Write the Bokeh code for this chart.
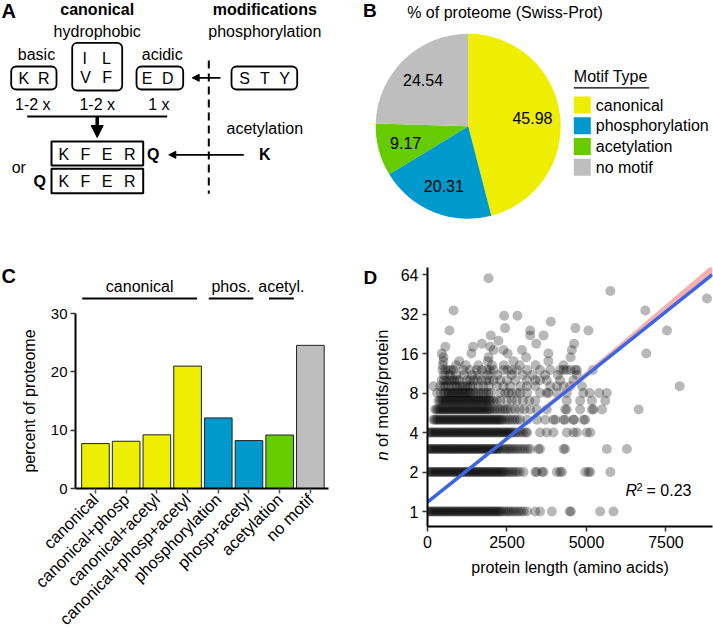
import math
from bokeh.plotting import figure
from bokeh.layouts import row, column
from bokeh.models import Range1d, FixedTicker, Arrow, NormalHead, BasicTickFormatter, Plot
from bokeh.core.properties import value
from bokeh.embed import file_html
from bokeh.resources import INLINE

FONT = "Liberation Sans"

# ---------------- data ----------------
motif_types = ["canonical", "phosphorylation", "acetylation", "no motif"]
motif_pct = [45.98, 20.31, 9.17, 24.54]
motif_colors = ["#EEEE00", "#0099CC", "#66CC00", "#BEBEBE"]

combo_labels = ["canonical", "canonical+phosp", "canonical+acetyl", "canonical+phosp+acetyl",
                "phosphorylation", "phosp+acetyl", "acetylation", "no motif"]
combo_pct = [7.7, 8.1, 9.2, 20.98, 12.1, 8.21, 9.17, 24.54]
combo_colors = ["#EEEE00", "#EEEE00", "#EEEE00", "#EEEE00", "#0099CC", "#0099CC", "#66CC00", "#BEBEBE"]

group_names = ["canonical", "phos.", "acetyl."]
group_spans = [(-0.43, 3.31), (3.69, 5.14), (5.65, 6.46)]

y_ticks_c = [0, 10, 20, 30]
x_ticks_d = [0, 2500, 5000, 7500]
y_ticks_d = [1, 2, 4, 8, 16, 32, 64]

# protein lengths (aa) of proteins carrying n motifs
len_n1 = [20, 64, 108, 152, 197, 240, 285, 330, 373, 417, 462, 506, 550, 595, 638, 683, 727, 771, 815, 860,
          904, 948, 992, 1037, 1081, 1125, 1169, 1214, 1258, 1302, 1347, 1391, 1435, 1480, 1524, 1568, 1612,
          1657, 1701, 1745, 1790, 1834, 1878, 1922, 1967, 2011, 2055, 2100, 2144, 2188, 2232, 2277, 2321,
          2390, 2450, 2520, 2580, 2650, 2720, 2790, 2870, 2940, 3020, 3130, 3390, 3540, 3910, 4470, 4510,
          5430, 5850]
len_n2 = [25, 70, 114, 159, 203, 248, 292, 337, 381, 426, 470, 515, 559, 604, 648, 693, 737, 782, 826, 871,
          915, 960, 1004, 1049, 1093, 1138, 1182, 1227, 1271, 1316, 1360, 1405, 1449, 1494, 1538, 1583, 1627,
          1672, 1716, 1761, 1805, 1850, 1894, 1939, 1983, 2028, 2072, 2117, 2161, 2206, 2250, 2295, 2339,
          2384, 2428, 2490, 2550, 2620, 2680, 2750, 2820, 2900, 3020, 3390, 3440, 3600, 3650, 4070, 4170,
          4230, 4960, 5060, 5120, 5750]
len_n3 = [22, 66, 110, 155, 199, 243, 288, 332, 376, 420, 465, 509, 553, 598, 642, 686, 730, 775, 819, 863,
          908, 952, 996, 1040, 1085, 1129, 1173, 1218, 1262, 1306, 1350, 1395, 1439, 1483, 1528, 1572, 1616,
          1660, 1705, 1749, 1793, 1838, 1882, 1926, 1970, 2015, 2059, 2103, 2148, 2192, 2236, 2280,
          2360, 2420, 2490, 2550, 2610, 2680, 2750, 2820, 2900, 2980, 3060, 3150, 3230, 3490, 3540, 4280,
          4330, 5640, 6270]
len_n4 = [30, 75, 119, 164, 208, 253, 297, 342, 386, 431, 475, 520, 564, 609, 653, 698, 742, 787, 831, 876,
          920, 965, 1009, 1054, 1098, 1143, 1187, 1232, 1276, 1321, 1365, 1410, 1454, 1499, 1543, 1588, 1632,
          1677, 1721, 1766, 1810, 1855, 1899, 1944, 1988, 2033, 2077, 2122, 2166, 2211, 2255, 2300, 2344,
          2389, 2433, 2478, 2522, 2567, 2611, 2656, 2700, 2770, 2840, 2920, 3000, 3090, 3130, 3540, 3750,
          3960, 4380, 4590, 4700, 5010, 5120]
len_n5 = [185, 229, 274, 318, 363, 407, 452, 496, 541, 585, 630, 674, 719, 763, 808, 852, 897, 941, 986, 1030,
          1075, 1119, 1164, 1208, 1253, 1297, 1342, 1386, 1431, 1475, 1520, 1564, 1609, 1653, 1698, 1742,
          1787, 1831, 1876, 1920, 1965, 2009, 2054, 2098, 2143, 2187, 2232, 2276, 2321, 2365, 2440, 2510,
          2580, 2660, 2740, 2820, 2910, 3130, 3440, 3700, 3960, 4020, 4280, 4330, 4590, 4610, 4910, 4960]
len_n6 = [242, 286, 331, 375, 420, 464, 509, 553, 598, 642, 687, 731, 776, 820, 865, 909, 954, 998, 1043, 1087,
          1132, 1176, 1221, 1265, 1310, 1354, 1399, 1443, 1488, 1532, 1577, 1621, 1666, 1710, 1755, 1799,
          1844, 1888, 1933, 1977, 2050, 2120, 2200, 2280, 2360, 2440, 2510, 2620, 2750, 2900, 3050, 3230,
          3440, 3750, 4330, 4380, 4800, 5170, 5220, 5490, 6640]
len_n7 = [348, 393, 437, 482, 526, 571, 615, 660, 704, 749, 793, 838, 882, 927, 971, 1016, 1060, 1105, 1149,
          1194, 1238, 1283, 1327, 1372, 1416, 1461, 1505, 1550, 1594, 1639, 1683, 1728, 1772, 1817, 1861,
          1906, 1950, 1995, 2080, 2180, 2290, 2500, 2650, 2800, 3000, 3200, 3390, 4380, 4800, 5170, 5590]
len_n8 = [300, 420, 520, 570, 620, 670, 720, 770, 820, 870, 920, 970, 1020, 1070, 1120, 1170, 1220, 1270, 1320,
          1370, 1440, 1520, 1600, 1680, 1760, 1840, 1920, 1990, 2290, 2440, 2550, 2650, 2810, 2920, 3130,
          3540, 3750, 3800, 4070, 4380, 4900, 5100, 5400, 5640]
len_n9 = [190, 400, 500, 560, 660, 760, 870, 930, 1030, 1100, 1180, 1250, 1340, 1420, 1600, 1760, 1920, 2180,
          2390, 2600, 2920, 3130, 3390, 3860, 4070, 4280, 4490, 4860, 7930]
len_n10 = [450, 520, 600, 680, 760, 840, 920, 1000, 1240, 1340, 1450, 1560, 1700, 1850, 1950, 2080, 2290,
           2500, 2760, 3130, 3390, 3540, 3750, 4170, 4590]
len_n11 = [520, 700, 900, 1150, 1400, 1600, 1900, 2200, 2650, 3000, 3300, 3700, 4100, 4700]
len_n12 = [470, 560, 650, 740, 820, 1130, 1340, 1550, 1710, 1870, 1960, 2080, 2390, 2520, 2650, 2810, 3130,
           3540, 3860, 4170, 4280, 4380, 4500, 4650, 4700, 5200]
outlier_len = [480, 900, 1200, 1600, 2030, 2400, 2900, 3400, 4280, 500, 1000, 1900, 2700, 3800, 500, 1920,
               3100, 4500, 450, 1380, 2520, 3800, 6880, 2080, 2390, 2970, 4540, 560, 1430, 1970, 1710, 2230,
               3420, 4610, 1990, 3230, 3650, 690, 3230, 5060, 7530, 2440, 4650, 3880, 2410, 2830, 820, 6850,
               8790, 5750, 1920]
outlier_n = [13, 13, 13, 13, 13, 13, 13, 13, 13, 14, 14, 14, 14, 14, 15, 15,
             15, 15, 16, 16, 16, 16, 16, 17, 17, 17, 17, 18, 18, 18, 19, 20,
             19, 19, 22, 22, 22, 24, 24, 24, 24, 25, 25, 28, 31, 31, 34, 34,
             42, 48, 60]

fit_len = [0, 8960]
fit_n = [1.18, 64.0]
band_len = [0, 2000, 4000, 6000, 8960]
band_lo = [1.14, 2.8, 6.85, 16.7, 62.0]
band_hi = [1.22, 2.95, 7.4, 18.6, 76.0]
r_squared = 0.23

HAS_FA = "frame_align" in Plot.properties()


# ---------------- helpers ----------------
def fig(**kw):
    if HAS_FA:
        kw["frame_align"] = False
    p = figure(output_backend="svg", toolbar_location=None, title=None, **kw)
    p.xgrid.visible = False
    p.ygrid.visible = False
    p.outline_line_color = None
    p.background_fill_color = "white"
    p.border_fill_color = "white"
    return p


def canvas(w, h, xr, yr, top=0, bottom=0):
    return fig(frame_width=w, frame_height=h - top - bottom, x_range=Range1d(*xr), y_range=Range1d(*yr),
               x_axis_location=None, y_axis_location=None, min_border_left=0, min_border_right=0,
               min_border_top=top, min_border_bottom=bottom)


def txt(p, xs, ys, texts, size=16, style="normal", align="center", angle=0.0, mid=False):
    # ys are text baselines (screen-down coordinates) unless mid=True (already the visual middle)
    ym = ys if mid else [y - 0.36 * size for y in ys]
    p.text(x=xs, y=ym, text=texts, text_font=value(FONT), text_font_size=f"{size}px", text_font_style=style,
           text_align=align, text_baseline="middle", angle=angle, text_color="black")


def arrow(p, x0, y0, x1, y1, lw, head):
    p.add_layout(Arrow(x_start=x0, y_start=y0, x_end=x1, y_end=y1, line_width=lw, line_color="black",
                       end=NormalHead(size=head, fill_color="black", line_color="black", line_width=1)))


def style_axis(ax, size):
    ax.axis_line_width = 2
    ax.axis_line_color = "black"
    ax.major_tick_line_width = 1.5
    ax.major_tick_line_color = "#333333"
    ax.major_tick_in = 0
    ax.major_tick_out = 5
    ax.minor_tick_line_color = None
    ax.major_label_text_font = FONT
    ax.major_label_text_font_size = size
    ax.major_label_text_color = "black"
    ax.axis_label_text_font = FONT
    ax.axis_label_text_font_size = "16px"
    ax.axis_label_text_font_style = "normal"
    ax.axis_label_text_color = "black"


# bar-chart geometry (shared with header labels drawn in the panel A canvas)
C_LEFT, C_FW, C_XS, C_XE = 75, 253, -0.65, 7.59


def cx(u):
    return C_LEFT + (u - C_XS) / (C_XE - C_XS) * C_FW


# ---------------- Panel A (diagram) ----------------
pa = canvas(360, 300, (0, 360), (300, 0))
txt(pa, [1], [17.5], ["A"], size=20, style="bold", align="left")
txt(pa, [96.7, 264.3], [14.5, 14.5], ["canonical", "modifications"], style="bold")
txt(pa, [96.7, 264.3, 36, 161.7], [37, 37, 60, 60], ["hydrophobic", "phosphorylation", "basic", "acidic"])
pa.quad(left=[10.7, 71.7, 136, 231], right=[56, 121.7, 182.7, 296.7], top=[66, 42.3, 66, 66],
        bottom=[89, 90, 89, 89], fill_color=None, line_color="black", line_width=1.8, border_radius=5)
txt(pa, [23.3, 43.3, 84.3, 106, 85, 106.7, 146.7, 167.3, 244, 264.3, 284],
    [83.3, 83.3, 63.3, 63.3, 82.7, 82.7, 83.3, 83.3, 83.3, 83.3, 83.3],
    ["K", "R", "I", "L", "V", "F", "E", "D", "S", "T", "Y"])
arrow(pa, 220, 77.3, 191.7, 77.3, 1.8, 7)
pa.line([208.3, 208.3], [60, 193.3], line_color="black", line_width=2, line_dash="8 5")
txt(pa, [32.3, 96.7, 158.3], [109.3, 109.3, 109.3], ["1-2 x", "1-2 x", "1 x"])
pa.segment(x0=[26.7], y0=[116], x1=[166.7], y1=[116], line_color="black", line_width=2)
arrow(pa, 96.7, 116, 96.7, 137, 3.5, 12)
txt(pa, [264.3], [134], ["acetylation"])
pa.quad(left=[51, 51], right=[142.7, 142.7], top=[141, 168.3], bottom=[165, 192.7],
        fill_color=None, line_color="black", line_width=2)
txt(pa, [63.3, 85, 106.7, 129.3, 63.3, 85, 106.7, 129.3],
    [159.3] * 4 + [186.7] * 4, ["K", "F", "E", "R", "K", "F", "E", "R"])
txt(pa, [152.7, 39.3, 264.3], [159.3, 186.7, 159.3], ["Q", "Q", "K"], style="bold")
arrow(pa, 243.3, 154.3, 168.3, 154.3, 1.8, 7)
txt(pa, [18.3], [172.3], ["or"])
# header of panel C
txt(pa, [1], [283], ["C"], size=20, style="bold", align="left")
txt(pa, [cx((a + b) / 2) for a, b in group_spans], [291.5] * 3, group_names)
pa.segment(x0=[cx(a) for a, b in group_spans], y0=[298] * 3, x1=[cx(b) for a, b in group_spans],
           y1=[298] * 3, line_color="black", line_width=2)

# ---------------- Panel C (bars) ----------------
pc = fig(frame_width=C_FW, frame_height=175, x_range=Range1d(C_XS, C_XE), y_range=Range1d(0, 30),
         min_border_left=C_LEFT, min_border_right=360 - C_LEFT - C_FW, min_border_top=13, min_border_bottom=149)
pc.vbar(x=list(range(len(combo_labels))), top=combo_pct, bottom=0, width=0.9, fill_color=combo_colors,
        line_color="#222222", line_width=1)
style_axis(pc.xaxis[0], "16.5px")
style_axis(pc.yaxis[0], "15px")
pc.xaxis.ticker = FixedTicker(ticks=list(range(len(combo_labels))))
pc.xaxis.major_label_overrides = {i: lab for i, lab in enumerate(combo_labels)}
pc.xaxis.major_label_orientation = math.pi / 4
pc.xaxis.major_label_standoff = 3
pc.xaxis.major_tick_line_color = "#555555"
pc.yaxis.ticker = FixedTicker(ticks=y_ticks_c)
pc.yaxis.major_label_standoff = 3
pc.yaxis.axis_label = "percent of proteome"
pc.yaxis.axis_label_standoff = 10

# ---------------- Panel B (pie) ----------------
PIE_CX, PIE_CY, PIE_R = 467.7, 125.7, 92.5
pb = canvas(353, 265, (360, 713), (265, 0))
txt(pb, [362.5], [17], ["B"], size=19, style="bold", align="left")
txt(pb, [406.7], [18], ["% of proteome (Swiss-Prot)"], align="left")
total = sum(motif_pct)
starts, ends, cum = [], [], 0.0
for v in motif_pct:
    starts.append(math.pi / 2 - 2 * math.pi * cum / total)
    cum += v
    ends.append(math.pi / 2 - 2 * math.pi * cum / total)
pb.wedge(x=PIE_CX, y=PIE_CY, radius=PIE_R, start_angle=starts, end_angle=ends, direction="clock",
         fill_color=motif_colors, line_color=None)
mids = [(s + e) / 2 for s, e in zip(starts, ends)]
txt(pb, [PIE_CX + 0.7 * PIE_R * math.cos(m) for m in mids], [PIE_CY - 0.7 * PIE_R * math.sin(m) for m in mids],
    [f"{v:.2f}" for v in motif_pct], mid=True)
LEG_X, LEG_Y0, LEG_DY = 573.3, 104.6, 20.7
txt(pb, [LEG_X], [81.7], ["Motif Type"], align="left")
pb.segment(x0=[LEG_X], y0=[87.3], x1=[LEG_X + 75.4], y1=[87.3], line_color="black", line_width=1.2)
leg_y = [LEG_Y0 + LEG_DY * i for i in range(len(motif_types))]
pb.rect(x=LEG_X + 8.5, y=leg_y, width=17, height=17, fill_color=motif_colors, line_color=None)
txt(pb, [LEG_X + 22] * len(motif_types), [y + 5.8 for y in leg_y], motif_types, align="left")

# ---------------- Panel D (scatter) ----------------
D_TOP, D_FH, D_BOT = 2, 259, 59
pds = canvas(32, D_TOP + D_FH + D_BOT, (360, 392), (526, 267), top=D_TOP, bottom=D_BOT)
txt(pds, [363], [284], ["D"], size=19, style="bold", align="left")
txt(pds, [381], [460], ["n"], size=16.5, style="italic", align="left", angle=math.pi / 2, mid=True)
txt(pds, [381], [446.5], ["of motifs/protein"], size=16.5, align="left", angle=math.pi / 2, mid=True)

pdm = fig(frame_width=285, frame_height=D_FH, x_range=Range1d(0, 8963), y_range=Range1d(0.769, 72.4),
          y_axis_type="log", min_border_left=35, min_border_right=1, min_border_top=D_TOP,
          min_border_bottom=D_BOT)
levels = [(1, len_n1), (2, len_n2), (3, len_n3), (4, len_n4), (5, len_n5), (6, len_n6), (7, len_n7),
          (8, len_n8), (9, len_n9), (10, len_n10), (11, len_n11), (12, len_n12)]
xs, ys = [], []
for n, lens in levels:
    xs += lens
    ys += [n] * len(lens)
xs += outlier_len
ys += outlier_n
pdm.scatter(x=xs, y=ys, size=10, fill_color="black", fill_alpha=0.28, line_color=None)
pdm.varea(x=band_len, y1=band_lo, y2=band_hi, fill_color="#F4A0A0", fill_alpha=0.85)
pdm.line(fit_len, fit_n, line_color="#3B65E3", line_width=3.5)
pdm.text(x=[6227], y=[1.446], text=["R"], text_font=value(FONT), text_font_size="16px",
         text_font_style="italic", text_baseline="middle", text_align="left")
pdm.text(x=[6573], y=[1.537], text=["2"], text_font=value(FONT), text_font_size="11px",
         text_baseline="middle", text_align="left")
pdm.text(x=[6888], y=[1.446], text=[f"= {r_squared:.2f}"], text_font=value(FONT), text_font_size="16px",
         text_baseline="middle", text_align="left")
style_axis(pdm.xaxis[0], "16px")
style_axis(pdm.yaxis[0], "16px")
pdm.xaxis.ticker = FixedTicker(ticks=x_ticks_d)
pdm.xaxis.major_label_standoff = 4
pdm.xaxis.axis_label = "protein length (amino acids)"
pdm.xaxis.axis_label_standoff = 8
pdm.yaxis.ticker = FixedTicker(ticks=y_ticks_d)
pdm.yaxis.formatter = BasicTickFormatter()
pdm.yaxis.major_label_standoff = 4

layout = row(column(pa, pc), column(pb, row(pds, pdm)))
open("out.html", "w").write(file_html(layout, INLINE, "Figure"))
